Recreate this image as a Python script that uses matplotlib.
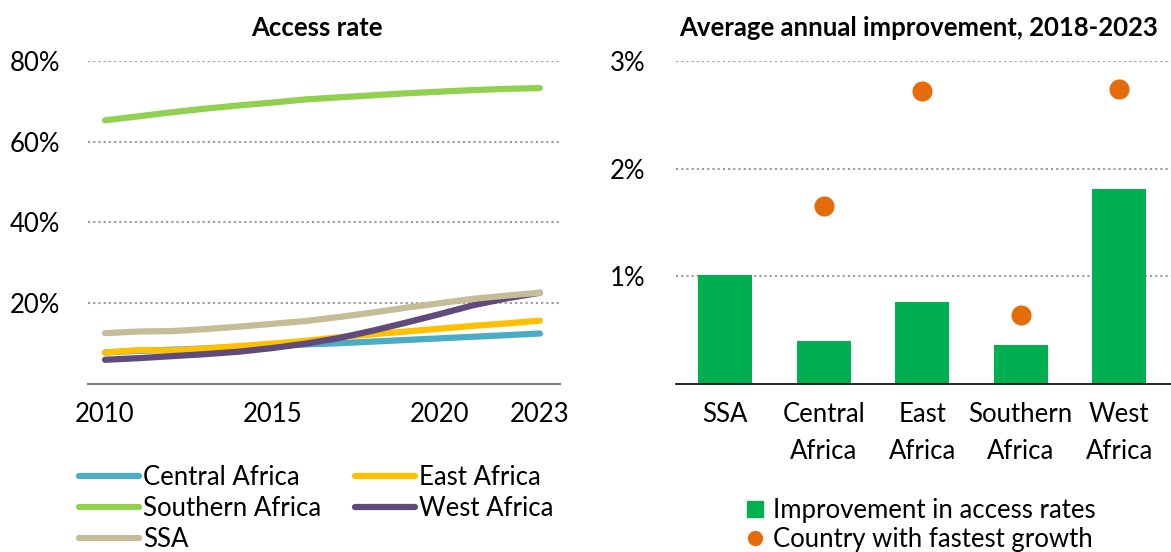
import matplotlib
matplotlib.use("Agg")
import matplotlib.pyplot as plt
from matplotlib.lines import Line2D
import numpy as np

plt.rcParams['font.family'] = ['Lato', 'DejaVu Sans']

years = list(range(2010, 2024))
central = [7.8, 8.2, 8.5, 8.8, 9.2, 9.5, 9.8, 10.1, 10.5, 10.9, 11.3, 11.7, 12.1, 12.5]
east = [7.8, 8.4, 8.3, 8.8, 9.4, 10.0, 10.7, 11.6, 12.3, 13.0, 13.7, 14.4, 15.0, 15.7]
southern = [65.3, 66.3, 67.3, 68.2, 69.0, 69.7, 70.5, 71.0, 71.5, 72.0, 72.4, 72.8, 73.1, 73.3]
west = [6.0, 6.4, 6.9, 7.4, 8.0, 8.9, 10.0, 11.4, 13.2, 15.2, 17.3, 19.5, 21.2, 22.6]
ssa = [12.6, 13.0, 13.1, 13.6, 14.2, 14.9, 15.6, 16.6, 17.7, 18.9, 20.0, 21.1, 21.9, 22.6]
left_xticks = [2010, 2015, 2020, 2023]
left_yticks = [20, 40, 60, 80]

categories = ["SSA", "Central\nAfrica", "East\nAfrica", "Southern\nAfrica", "West\nAfrica"]
improvement = [1.01, 0.40, 0.76, 0.36, 1.81]
fastest = [None, 1.65, 2.72, 0.64, 2.74]
right_yticks = [1, 2, 3]

W, H = 1171, 552
fig = plt.figure(figsize=(W / 100, H / 100), dpi=100)

def px_axes(x0, y0, x1, y1):
    return fig.add_axes([x0 / W, 1 - y1 / H, (x1 - x0) / W, (y1 - y0) / H])

FS = 18.5
grid_kw = dict(color='#9A9A9A', linestyle=(0, (1, 1.5)), linewidth=1.5, zorder=0)

# Left panel
ax1 = px_axes(88, 61, 560, 384)
series = [
    ("Central Africa", central, '#4BACC6'),
    ("East Africa", east, '#FFC000'),
    ("Southern Africa", southern, '#92D050'),
    ("West Africa", west, '#604A7B'),
    ("SSA", ssa, '#C4BD97'),
]
draw_order = ["Southern Africa", "Central Africa", "East Africa", "West Africa", "SSA"]
handles = {}
for name, vals, col in series:
    z = 3 + draw_order.index(name)
    ax1.plot(years, vals, color=col, linewidth=4.5, solid_capstyle='round', zorder=z)
    handles[name] = Line2D([], [], color=col, linewidth=4.5, solid_capstyle='round')
ax1.set_xlim(2009.49, 2023.6)
ax1.set_ylim(0, 80)
for t in left_yticks:
    ax1.axhline(t, **grid_kw)
ax1.set_yticks(left_yticks)
ax1.set_yticklabels([f"{t}%" for t in left_yticks], fontsize=FS)
ax1.set_xticks(left_xticks)
ax1.set_xticklabels([str(t) for t in left_xticks], fontsize=FS)
ax1.tick_params(length=0, pad=13)
ax1.tick_params(axis='y', pad=20)
for s in ['top', 'right', 'left']:
    ax1.spines[s].set_visible(False)
ax1.spines['bottom'].set_color('#808080')
ax1.spines['bottom'].set_linewidth(1.5)
ax1.set_title("Access rate", fontsize=FS, fontweight='bold', pad=18, x=0.485)

order = ["Central Africa", "Southern Africa", "SSA", "East Africa", "West Africa"]
fig.legend([handles[n] for n in order], order, loc='upper left',
           bbox_to_anchor=(66 / W, 1 - 452 / H), ncol=2, frameon=False,
           fontsize=FS, handlelength=2.35, handletextpad=0.15,
           columnspacing=1.3, labelspacing=0.24, borderpad=0)

# Right panel
ax2 = px_axes(676, 61, 1171, 384)
x = np.arange(len(categories))
ax2.bar(x, improvement, width=0.55, color='#00B050', zorder=2)
fx = [i for i, v in enumerate(fastest) if v is not None]
fy = [v for v in fastest if v is not None]
ax2.scatter(fx, fy, s=210, color='#E46C0A', zorder=3, linewidths=0)
ax2.set_xlim(-0.5, 4.525)
ax2.set_ylim(0, 3)
for t in right_yticks:
    ax2.axhline(t, **grid_kw)
ax2.set_yticks(right_yticks)
ax2.set_yticklabels([f"{t}%" for t in right_yticks], fontsize=FS)
ax2.set_xticks(x)
ax2.set_xticklabels(categories, fontsize=FS, linespacing=1.6)
ax2.tick_params(length=0, pad=13)
ax2.tick_params(axis='y', pad=22)
for s in ['top', 'right', 'left']:
    ax2.spines[s].set_visible(False)
ax2.spines['bottom'].set_color('black')
ax2.spines['bottom'].set_linewidth(1.2)
ax2.set_title("Average annual improvement, 2018-2023", fontsize=FS,
              fontweight='bold', pad=18, x=0.49)

h_bar = Line2D([], [], marker='s', linestyle='none', color='#00B050', markersize=11)
h_dot = Line2D([], [], marker='o', linestyle='none', color='#E46C0A', markersize=10)
fig.legend([h_bar, h_dot], ["Improvement in access rates", "Country with fastest growth"],
           loc='upper left', bbox_to_anchor=(732 / W, 1 - 485 / H), frameon=False,
           fontsize=FS, handlelength=0.8, handletextpad=0.3, labelspacing=0.18,
           borderpad=0)

fig.savefig("out.png", dpi=100)
